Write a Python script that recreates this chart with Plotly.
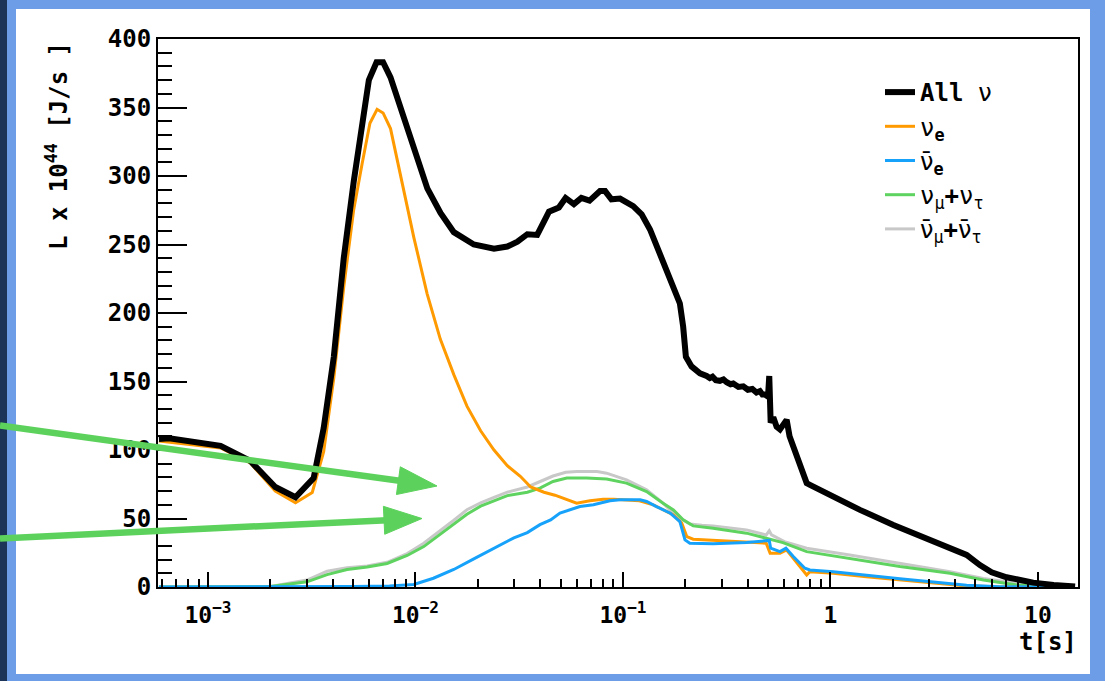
import plotly.graph_objects as go

# ---------------- data ----------------
t_all = [5.8e-4, 6.5e-4, 1.15e-3, 1.6e-3, 2.11e-3, 2.64e-3, 3.23e-3, 3.61e-3, 4.04e-3, 4.51e-3,
         5.04e-3, 5.53e-3, 5.96e-3, 6.49e-3, 6.98e-3, 7.58e-3, 8.48e-3, 9.82e-3, 1.14e-2, 1.32e-2,
         1.53e-2, 1.91e-2, 2.39e-2, 2.77e-2, 3.1e-2, 3.46e-2, 3.86e-2, 4.4e-2, 4.91e-2, 5.29e-2,
         5.8e-2, 6.3e-2, 6.9e-2, 7.75e-2, 8.2e-2, 8.8e-2, 9.68e-2, 0.112, 0.123, 0.135,
         0.148, 0.162, 0.175, 0.188, 0.195, 0.201, 0.214, 0.235, 0.253, 0.262,
         0.27, 0.28, 0.293, 0.305, 0.316, 0.33, 0.34, 0.36, 0.38, 0.40,
         0.42, 0.44, 0.457, 0.47, 0.483, 0.5, 0.507, 0.512, 0.515, 0.53,
         0.55, 0.571, 0.6, 0.615, 0.635, 0.662, 0.69, 0.713, 0.74, 0.768,
         0.796, 1.032, 1.387, 2.01, 2.91, 4.06, 4.53, 5.25, 5.98, 7.06,
         9.49, 11.9, 15.1]
L_all = [108, 108.5, 103, 92, 73, 65.5, 79.5, 116, 168, 240,
         296, 340, 370, 383, 383, 372, 350, 319, 291, 273,
         259, 250, 247, 248.5, 252, 257.5, 257, 274, 277, 284,
         279.5, 284, 282, 289, 289, 283, 283.5, 278, 272, 261,
         246, 232, 217, 207, 190, 168, 161, 156, 154, 152.5,
         153.5, 151, 150.5, 151.5, 149.5, 148, 148.5, 146, 146.5, 144,
         144.5, 142, 143, 140.5, 140.5, 139, 154, 140, 120, 124,
         117, 115, 121, 122, 110, 102.6, 96, 90.5, 84, 75.8,
         74.6, 66, 56.3, 45.3, 35.6, 27, 23.4, 16, 10.7, 7.1,
         3.2, 1.5, 0.3]

t_nue = [5.8e-4, 1.15e-3, 1.6e-3, 2.11e-3, 2.64e-3, 3.18e-3, 3.61e-3, 4.04e-3, 4.51e-3, 5.04e-3,
         5.53e-3, 6.03e-3, 6.53e-3, 6.98e-3, 7.58e-3, 8.48e-3, 9.82e-3, 1.138e-2, 1.318e-2, 1.53e-2,
         1.77e-2, 2.06e-2, 2.39e-2, 2.77e-2, 3.2e-2, 3.59e-2, 4.16e-2, 4.7e-2, 5.98e-2, 6.93e-2,
         8.03e-2, 9.0e-2, 0.12, 0.14, 0.175, 0.192, 0.203, 0.218, 0.272, 0.394,
         0.49, 0.512, 0.571, 0.615, 0.713, 0.768, 0.796, 1.032, 1.49, 2.16,
         3.13, 4.53, 6.5, 15.0]
L_nue = [106.5, 101.5, 90.5, 70, 61.5, 69, 98.7, 152.6, 219, 275.6,
         309, 338.5, 348.7, 346, 334.6, 301, 255, 214, 180.8, 155,
         132, 114, 100, 88.5, 80.8, 73, 69.2, 67, 61.2, 62.9,
         64.1, 64, 63, 60, 52.6, 46.6, 36.8, 34.9, 34.2, 33,
         32, 24.6, 24.6, 27, 14.9, 8.8, 11.2, 10, 7.5, 5.1,
         2.7, 0.7, 0.1, 0]

t_anue = [5.8e-4, 3e-3, 5e-3, 7.5e-3, 9.82e-3, 1.22e-2, 1.53e-2, 1.91e-2, 2.39e-2, 2.98e-2,
          3.46e-2, 3.98e-2, 4.48e-2, 4.97e-2, 6.2e-2, 7.2e-2, 8.65e-2, 9.68e-2, 0.121, 0.13,
          0.145, 0.169, 0.188, 0.199, 0.21, 0.272, 0.394, 0.49, 0.507, 0.515,
          0.571, 0.61, 0.662, 0.753, 0.796, 1.032, 1.49, 2.16, 3.13, 4.53,
          6.5, 15.0]
L_anue = [0, 0, 0.3, 0.8, 1.8, 6.4, 12.8, 20.5, 28.2, 35.9,
          39.7, 45.5, 49, 54, 58.7, 60, 62.9, 63.6, 63.6, 62.4,
          58.7, 53.9, 47.8, 34.4, 32, 31.6, 32.5, 33.5, 34, 28.3,
          25.8, 28.3, 22.2, 13.7, 12.4, 11.2, 8.5, 6.1, 3.7, 1.3,
          0.2, 0]

t_numu = [5.8e-4, 1.8e-3, 2.0e-3, 3.0e-3, 3.75e-3, 4.68e-3, 5.85e-3, 7.3e-3, 9.12e-3, 1.096e-2,
          1.318e-2, 1.53e-2, 1.77e-2, 2.06e-2, 2.39e-2, 2.77e-2, 3.46e-2, 3.98e-2, 4.6e-2, 5.36e-2,
          6.68e-2, 8.34e-2, 0.104, 0.13, 0.156, 0.175, 0.195, 0.218, 0.272, 0.394,
          0.49, 0.59, 0.768, 1.24, 2.16, 3.77, 5.46, 7.9, 12.0, 15.0]
L_numu = [0, 0, 0.3, 3.8, 9, 12.8, 14.6, 17.2, 23, 29.5,
          38.5, 46.2, 53.1, 59, 62.8, 66.7, 69.2, 72.2, 77, 79.5,
          79.5, 78.8, 75.8, 69.7, 61.2, 56.3, 49, 44.6, 42.9, 39.3,
          35.6, 32.4, 25.8, 21, 14.9, 10, 5.1, 1.5, 0.3, 0.1]

t_anumu = [5.8e-4, 1.8e-3, 2.0e-3, 3.0e-3, 3.75e-3, 4.68e-3, 5.85e-3, 7.3e-3, 9.12e-3, 1.096e-2,
           1.318e-2, 1.53e-2, 1.77e-2, 2.06e-2, 2.39e-2, 2.77e-2, 3.46e-2, 3.98e-2, 4.6e-2, 5.3e-2,
           6.0e-2, 7.5e-2, 8.34e-2, 0.104, 0.13, 0.156, 0.18, 0.195, 0.21, 0.24,
           0.272, 0.394, 0.49, 0.507, 0.52, 0.6, 0.768, 1.24, 2.16, 3.77,
           5.46, 7.9, 12.0, 15.0]
L_anumu = [0, 0, 0.4, 5.1, 11.5, 14.1, 15.4, 18, 24.4, 32,
           41, 48.7, 56.4, 61.5, 65.4, 69.2, 73, 77, 81, 83.8,
           84.3, 84.3, 83.1, 78.2, 70.9, 61.2, 52, 49, 46, 45,
           44.6, 41.7, 38, 41, 38, 33.1, 28.3, 23.4, 17.3, 11.2,
           6.3, 2.7, 0.8, 0.3]

NUBAR = '<span style="font-family:DejaVu Sans">ν\u0304</span>'
names = {
    "all": "<b>All</b> ν",
    "nue": "ν<sub><b>e</b></sub>",
    "anue": NUBAR + "<sub><b>e</b></sub>",
    "numu": "ν<sub>μ</sub><b>+</b>ν<sub>τ</sub>",
    "anumu": NUBAR + "<sub>μ</sub><b>+</b>" + NUBAR + "<sub>τ</sub>",
}
x_tickvals = [1e-3, 1e-2, 1e-1, 1, 10]
x_ticktext = ["10<sup>−3</sup>", "10<sup>−2</sup>", "10<sup>−1</sup>", "1", "10"]

# ---------------- style ----------------
C_ORANGE = "#ff9a00"
C_BLUE = "#16a2fa"
C_GREEN = "#5fd35f"
C_GRAY = "#c8c8c8"
C_ARROW = "#5cd25c"
FONT = "DejaVu Sans Mono"

W, H = 1105, 681
ML, MR, MT, MB = 158, 27, 39, 94
PW, PH = W - ML - MR, H - MT - MB


def paper(px, py):
    return (px - ML) / PW, (H - MB - py) / PH


fig = go.Figure()
traces = [
    (t_anumu, L_anumu, names["anumu"], C_GRAY, 3, 5),
    (t_numu, L_numu, names["numu"], C_GREEN, 3, 4),
    (t_nue, L_nue, names["nue"], C_ORANGE, 3, 2),
    (t_anue, L_anue, names["anue"], C_BLUE, 3, 3),
    (t_all, L_all, names["all"], "black", 6, 1),
]
for tx, ly, nm, col, lw, rank in traces:
    fig.add_trace(go.Scatter(x=tx, y=ly, mode="lines", name=nm,
                             line=dict(color=col, width=lw),
                             legendrank=rank, legendgroup=str(rank)))

minor_vals = [k * 10.0 ** e for e in range(-4, 2) for k in range(2, 10)]

fig.update_xaxes(type="log", range=[-3.241, 1.193],
                 tickvals=x_tickvals, ticktext=x_ticktext,
                 ticks="inside", ticklen=15, tickwidth=2, tickcolor="black",
                 minor=dict(tickvals=minor_vals, ticks="inside", ticklen=8,
                            tickwidth=1.5, tickcolor="black", showgrid=False),
                 showline=True, linecolor="black", linewidth=2, mirror=True,
                 showgrid=False, zeroline=False, ticklabelstandoff=6,
                 tickfont=dict(family=FONT, size=23, color="black", weight="bold"))
fig.update_yaxes(range=[0, 400], dtick=50, tick0=0,
                 ticks="inside", ticklen=29, tickwidth=2, tickcolor="black",
                 minor=dict(dtick=10, ticks="inside", ticklen=14, tickwidth=2,
                            tickcolor="black", showgrid=False),
                 showline=True, linecolor="black", linewidth=2, mirror=True,
                 showgrid=False, zeroline=False, ticklabelstandoff=0,
                 tickfont=dict(family=FONT, size=24, color="black", weight="bold"))

shapes = []
# page background: dark strip at left, light blue frame, white panel
x0, y0 = paper(0, 0); x1, y1 = paper(7, H)
shapes.append(dict(type="rect", xref="paper", yref="paper", x0=x0, y0=y0, x1=x1, y1=y1,
                   fillcolor="#1b3457", line=dict(width=0), layer="below"))
x0, y0 = paper(16, 9); x1, y1 = paper(1090, 674)
shapes.append(dict(type="rect", xref="paper", yref="paper", x0=x0, y0=y0, x1=x1, y1=y1,
                   fillcolor="white", line=dict(width=0), layer="below"))


def arrow(sx, sy, tx, ty, hl=39, hw=14, lw=6.5):
    dx, dy = tx - sx, ty - sy
    n = (dx * dx + dy * dy) ** 0.5
    ux, uy = dx / n, dy / n
    bx, by = tx - ux * hl, ty - uy * hl
    px_, py_ = -uy, ux
    a = paper(sx, sy); b = paper(bx + ux * 3, by + uy * 3)
    out = [dict(type="line", xref="paper", yref="paper", x0=a[0], y0=a[1], x1=b[0], y1=b[1],
                line=dict(color=C_ARROW, width=lw), layer="above")]
    p1 = paper(bx + px_ * hw, by + py_ * hw)
    p2 = paper(tx, ty)
    p3 = paper(bx - px_ * hw, by - py_ * hw)
    path = f"M {p1[0]},{p1[1]} L {p2[0]},{p2[1]} L {p3[0]},{p3[1]} Z"
    out.append(dict(type="path", xref="paper", yref="paper", path=path,
                    fillcolor=C_ARROW, line=dict(color=C_ARROW, width=1), layer="above"))
    return out


shapes += arrow(0, 425.5, 437, 486)
shapes += arrow(0, 538.5, 422, 518.5, hl=38)

ax_, ay_ = paper(57, 146)
tx_, ty_ = paper(1079, 642)
annotations = [
    dict(xref="paper", yref="paper", x=ax_, y=ay_, xanchor="center", yanchor="middle",
         text="L x 10<sup>44</sup> [J/s ]", textangle=-90, showarrow=False,
         font=dict(family=FONT, size=24, color="black", weight="bold")),
    dict(xref="paper", yref="paper", x=tx_, y=ty_, xanchor="right", yanchor="middle",
         text="t[s]", showarrow=False,
         font=dict(family=FONT, size=24, color="black", weight="bold")),
]

lx, ly = paper(880, 70)
fig.update_layout(
    width=W, height=H, autosize=False,
    margin=dict(l=ML, r=MR, t=MT, b=MB, pad=0),
    paper_bgcolor="#6d9de6", plot_bgcolor="white",
    shapes=shapes, annotations=annotations,
    showlegend=True,
    legend=dict(x=lx, y=ly, xanchor="left", yanchor="top", bgcolor="rgba(0,0,0,0)",
                borderwidth=0, tracegroupgap=0,
                font=dict(family=FONT, size=24, color="black")),
)

fig.write_html("out.html")
